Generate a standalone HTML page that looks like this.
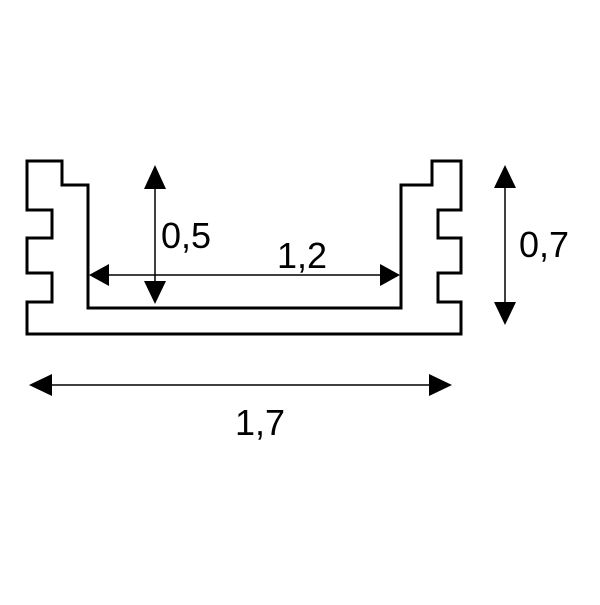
<!DOCTYPE html>
<html><head><style>body{margin:0;background:#fff}</style></head><body>
<svg width="600" height="600" xmlns="http://www.w3.org/2000/svg">
<g fill="none" stroke="#000" stroke-width="3">
<path d="M27,161 H62 V185 H88 V308 H401 V185 H432 V161 H461 V210 H438 V238 H461 V273 H438 V302 H461 V334 H27 V302 H52 V273 H27 V238 H52 V210 H27 Z"/>
</g>
<g stroke="#000" stroke-width="1.5">
<line x1="155" y1="180" x2="155" y2="290"/>
<line x1="105" y1="275" x2="385" y2="275"/>
<line x1="505" y1="185" x2="505" y2="305"/>
<line x1="48" y1="385" x2="435" y2="385"/>
</g>
<g fill="#000">
<polygon points="155,165 144,189 166,189"/>
<polygon points="155,304 144,281 166,281"/>
<polygon points="89,275 109,264 109,286"/>
<polygon points="400,275 380,264 380,286"/>
<polygon points="505,165 494,188 516,188"/>
<polygon points="505,325 494,302 516,302"/>
<polygon points="29,385 52,374 52,396"/>
<polygon points="452,385 429,374 429,396"/>
</g>
<g font-family="Liberation Sans, sans-serif" font-size="36" fill="#000">
<text x="161" y="248">0,5</text>
<text x="277" y="268">1,2</text>
<text x="519" y="257">0,7</text>
<text x="235" y="435">1,7</text>
</g>
</svg>
</body></html>
